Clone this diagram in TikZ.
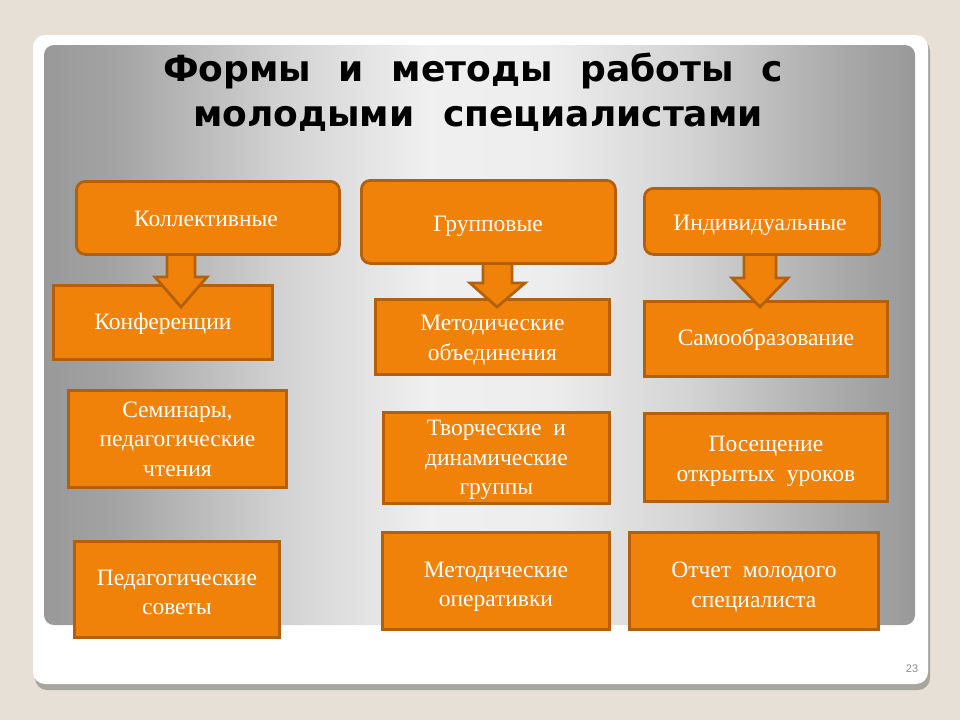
\documentclass[tikz,border=0pt]{standalone}
\usepackage{fontspec}
\setmainfont{Liberation Serif}
\newfontfamily\titlefont{DejaVu Sans}
\newfontfamily\numfont{Liberation Sans}
\usetikzlibrary{calc}
\definecolor{bgbeige}{HTML}{E6E0D6}
\definecolor{boxfill}{HTML}{F0820A}
\definecolor{boxline}{HTML}{B3600C}
\definecolor{cardshadow}{HTML}{A8A59E}
\pgfdeclarehorizontalshading{panelshade}{100bp}{color(0bp)=(black!40); color(25bp)=(black!40); color(29bp)=(black!36); color(39bp)=(black!17); color(47bp)=(black!6); color(54bp)=(black!7); color(62bp)=(black!17); color(71bp)=(black!34); color(75bp)=(black!40); color(100bp)=(black!40)}
\tikzset{
  box/.style={draw=boxline, line width=2.8pt, fill=boxfill, inner sep=0pt, anchor=north west},
  rbox/.style={box, rounded corners=9pt},
  boxtext/.style={text=white, align=center, font=\fontsize{23.5}{29.5}\selectfont, inner sep=0pt},
  blockarrow/.style={draw=boxline, line width=2.8pt, fill=boxfill, line join=miter},
  titletext/.style={font=\titlefont\bfseries\fontsize{36}{42}\selectfont, text=black, inner sep=0pt},
}
\newcommand{\bx}[7]{% name, x1, y1, x2, y2, dy, text
  \node[box, minimum width=#4pt-#2pt, minimum height=#5pt-#3pt] (#1) at (#2,#3) {};
  \node[boxtext] (#1t) at ($(#1.center)+(0,#6)$) {#7};}
\begin{document}
\begin{tikzpicture}[x=1pt,y=-1pt]
\useasboundingbox (0,0) rectangle (960,720);
\fill[bgbeige] (0,0) rectangle (960,720);
% card
\fill[cardshadow, rounded corners=12pt] (35,39) rectangle (930,690);
\fill[white, rounded corners=12pt] (33,35) rectangle (928,684);
% panel
\shade[shading=panelshade, rounded corners=10pt] (44,45) rectangle (915,625);
% title
\node[titletext, anchor=base] (t1) at (473,81) {Формы\hspace{0.42em} и\hspace{0.42em} методы\hspace{0.42em} работы\hspace{0.42em} с};
\node[titletext, anchor=base] (t2) at (478,126) {молодыми\hspace{0.45em} специалистами};
% second row boxes
\bx{konf}{52}{284}{271}{358}{1}{Конференции}
\bx{mob}{374}{298}{608}{373}{3}{Методические\\объединения}
\bx{samo}{643}{300}{886}{375}{1}{Самообразование}
% arrows
\draw[blockarrow] (167,250) -- (167,277) -- (155,277) -- (181,307) -- (207,277) -- (195,277) -- (195,250);
\draw[blockarrow] (483,258) -- (483,283) -- (470,283) -- (497,307) -- (525,283) -- (512,283) -- (512,258);
\draw[blockarrow] (744,250) -- (744,278) -- (732,278) -- (760,307) -- (788,278) -- (776,278) -- (776,250);
% top row
\node[rbox, minimum width=263pt, minimum height=73pt] (koll) at (75,180) {};
\node[boxtext, anchor=base] (kollt) at (206,226) {Коллективные};
\node[rbox, minimum width=254pt, minimum height=83pt] (grup) at (360,179) {};
\node[boxtext, anchor=base] (grupt) at (488,231) {Групповые};
\node[rbox, minimum width=235pt, minimum height=66pt] (indiv) at (643,187) {};
\node[boxtext, anchor=base] (indivt) at (760,230) {Индивидуальные};
% third row
\bx{sem}{67}{389}{285}{486}{0}{Семинары,\\педагогические\\чтения}
\bx{tvor}{382}{411}{608}{502}{2}{Творческие\ \ и\\динамические\\группы}
\bx{pos}{643}{412}{886}{500}{4}{Посещение\\открытых\ \ уроков}
% fourth row
\bx{pedsov}{73}{540}{278}{636}{3}{Педагогические\\советы}
\bx{oper}{381}{531}{608}{628}{6}{Методические\\оперативки}
\bx{otch}{628}{531}{877}{628}{6}{Отчет\ \ молодого\\специалиста}
% page number
\node[font=\numfont\fontsize{11}{13}\selectfont, text=black!45, inner sep=0pt] (pn) at (912,669) {23};
\end{tikzpicture}
\end{document}
